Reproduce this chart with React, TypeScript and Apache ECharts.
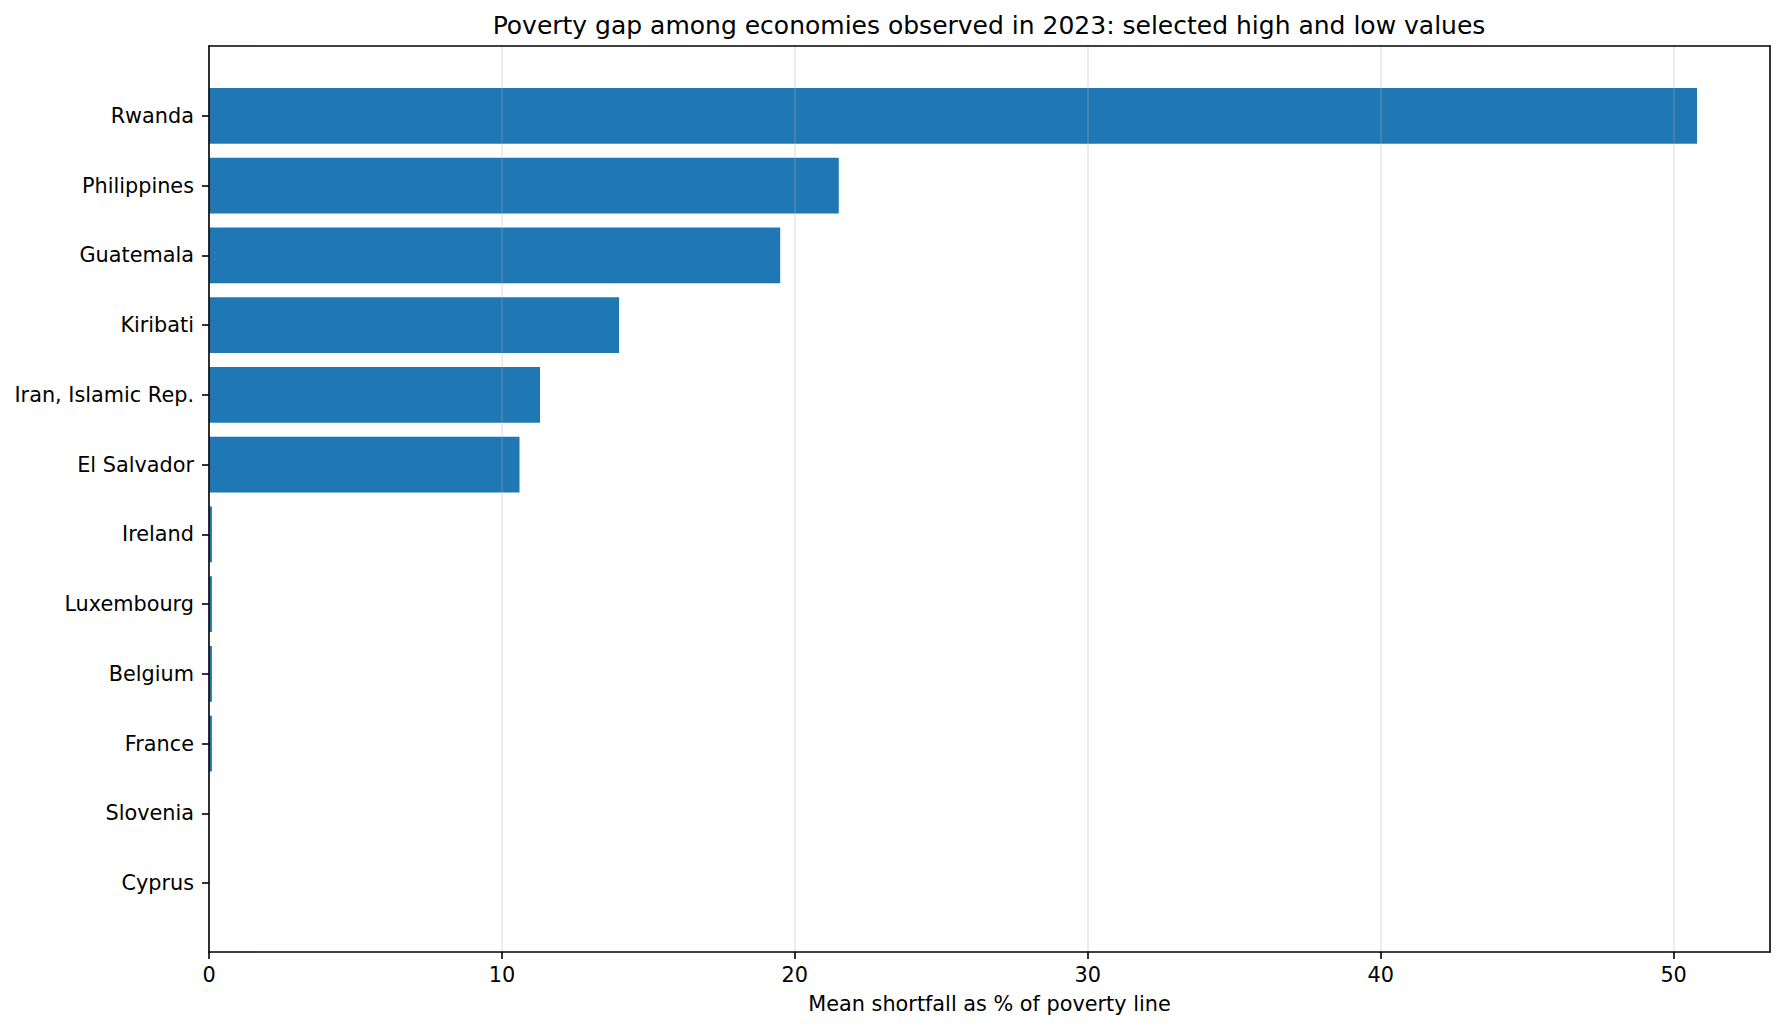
import * as echarts from 'echarts';
import { useEffect, useRef } from 'react';

const countries = [
  'Rwanda',
  'Philippines',
  'Guatemala',
  'Kiribati',
  'Iran, Islamic Rep.',
  'El Salvador',
  'Ireland',
  'Luxembourg',
  'Belgium',
  'France',
  'Slovenia',
  'Cyprus',
];

const povertyGap = [50.8, 21.5, 19.5, 14.0, 11.3, 10.6, 0.1, 0.1, 0.1, 0.1, 0.0, 0.0];

const xTicks = [0, 10, 20, 30, 40, 50];

const TITLE = 'Poverty gap among economies observed in 2023: selected high and low values';
const X_NAME = 'Mean shortfall as % of poverty line';

const FONT = '"DejaVu Sans", sans-serif';
const X_MAX = 53.29;

export default function App() {
  const chartRef = useRef<HTMLDivElement>(null);

  useEffect(() => {
    if (!chartRef.current) return;
    const chart = echarts.init(chartRef.current, undefined, { renderer: 'svg' });

    const frameLine = { show: true, onZero: false, lineStyle: { color: '#000', width: 1.6 } };
    const hidden = { show: false };

    chart.setOption({
      animation: false,
      backgroundColor: '#fff',
      textStyle: { fontFamily: FONT },
      graphic: [
        {
          type: 'text',
          x: 989,
          y: 38,
          style: {
            text: TITLE,
            fontSize: 25,
            fontFamily: FONT,
            fill: '#000',
            align: 'center',
            verticalAlign: 'bottom',
          },
        },
      ],
      grid: [
        { left: 209, right: 15, top: 46, bottom: 79 },
        { left: 209, right: 15, top: 81, bottom: 113 },
      ],
      xAxis: [
        {
          gridIndex: 0,
          type: 'value',
          position: 'bottom',
          min: 0,
          max: X_MAX,
          interval: 10,
          z: 3,
          axisLine: frameLine,
          axisTick: {
            show: true,
            length: 7,
            lineStyle: { color: '#000', width: 1.6 },
            customValues: xTicks,
          },
          axisLabel: {
            show: true,
            customValues: xTicks,
            margin: 12,
            fontSize: 20.8,
            color: '#000',
            fontFamily: FONT,
          },
          splitLine: { show: true, lineStyle: { color: 'rgba(176,176,176,0.3)', width: 1.6 } },
          name: X_NAME,
          nameLocation: 'middle',
          nameGap: 41,
          nameTextStyle: { fontSize: 20.8, color: '#000', fontFamily: FONT },
        },
        {
          gridIndex: 0,
          type: 'value',
          position: 'top',
          min: 0,
          max: X_MAX,
          z: 3,
          axisLine: frameLine,
          axisTick: hidden,
          axisLabel: hidden,
          splitLine: hidden,
        },
        {
          gridIndex: 1,
          type: 'value',
          min: 0,
          max: X_MAX,
          show: false,
        },
      ],
      yAxis: [
        {
          gridIndex: 0,
          type: 'value',
          position: 'left',
          min: 0,
          max: 1,
          z: 3,
          axisLine: frameLine,
          axisTick: hidden,
          axisLabel: hidden,
          splitLine: hidden,
        },
        {
          gridIndex: 0,
          type: 'value',
          position: 'right',
          min: 0,
          max: 1,
          z: 3,
          axisLine: frameLine,
          axisTick: hidden,
          axisLabel: hidden,
          splitLine: hidden,
        },
        {
          gridIndex: 1,
          type: 'category',
          inverse: true,
          data: countries,
          axisLine: { show: false },
          axisTick: {
            show: true,
            alignWithLabel: true,
            length: 7,
            lineStyle: { color: '#000', width: 1.6 },
          },
          axisLabel: {
            margin: 15,
            fontSize: 20.8,
            color: '#000',
            fontFamily: FONT,
          },
          splitLine: hidden,
        },
      ],
      series: [
        {
          type: 'bar',
          xAxisIndex: 2,
          yAxisIndex: 2,
          data: povertyGap,
          barCategoryGap: '20%',
          itemStyle: { color: '#1f77b4' },
        },
      ],
    });

    return () => {
      chart.dispose();
    };
  }, []);

  return (
    <div
      ref={chartRef}
      style={{ position: 'fixed', left: 0, top: 0, width: 1785, height: 1031 }}
    />
  );
}
